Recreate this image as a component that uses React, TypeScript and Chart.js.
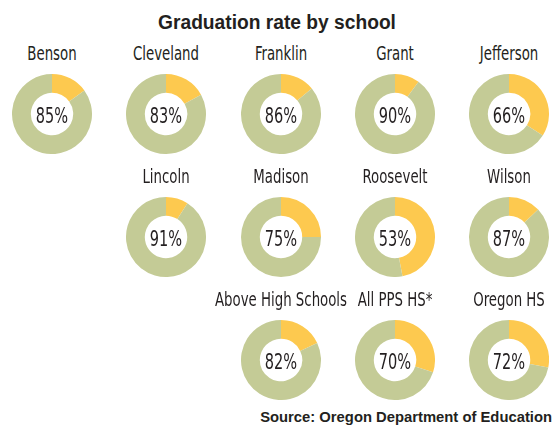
import React, { useEffect, useRef } from "react";
import { Chart, registerables } from "chart.js";

Chart.register(...registerables);

const TITLE = "Graduation rate by school";
const SOURCE = "Source: Oregon Department of Education";
const schools = [
  "Benson", "Cleveland", "Franklin", "Grant", "Jefferson",
  "Lincoln", "Madison", "Roosevelt", "Wilson",
  "Above High Schools", "All PPS HS*", "Oregon HS",
];
const rates = [85, 83, 86, 90, 66, 91, 75, 53, 87, 82, 70, 72];
const rowSizes = [5, 4, 3];

const GREEN = "#c4cb96";
const YELLOW = "#fdc94f";
const TEXT = "#231f20";

const COL_X = [52, 166, 281, 395, 509];
const ROW_Y = [114, 237, 360];
const SIZE = 80;
const COND = "'DejaVu Sans Condensed', 'Liberation Sans Narrow', sans-serif";

function Donut({ rate }: { rate: number }) {
  const ref = useRef<HTMLCanvasElement | null>(null);
  useEffect(() => {
    if (!ref.current) return;
    const chart = new Chart(ref.current, {
      type: "doughnut",
      data: {
        labels: ["Not graduated", "Graduated"],
        datasets: [
          {
            data: [100 - rate, rate],
            backgroundColor: [YELLOW, GREEN],
            borderWidth: 0,
          },
        ],
      },
      options: {
        responsive: false,
        animation: false,
        cutout: "53%",
        layout: { padding: 0 },
        plugins: { legend: { display: false }, tooltip: { enabled: false }, title: { display: false } },
      },
    });
    return () => chart.destroy();
  }, [rate]);
  return <canvas ref={ref} width={SIZE} height={SIZE} style={{ width: SIZE, height: SIZE, display: "block" }} />;
}

export default function App() {
  const cells: { name: string; rate: number; x: number; y: number }[] = [];
  let idx = 0;
  rowSizes.forEach((n, r) => {
    for (let i = 0; i < n; i++) {
      const col = 5 - n + i;
      cells.push({ name: schools[idx], rate: rates[idx], x: COL_X[col], y: ROW_Y[r] });
      idx++;
    }
  });
  return (
    <div style={{ position: "absolute", left: 0, top: 0, width: 560, height: 428, background: "#fff", overflow: "hidden", color: TEXT }}>
      <div
        style={{
          position: "absolute", left: 277, top: 22, transform: "translate(-50%,-50%) scaleX(0.96)",
          fontFamily: "'Liberation Sans', Arial, sans-serif", fontWeight: 700, fontSize: 20, lineHeight: 1, whiteSpace: "nowrap",
        }}
      >
        {TITLE}
      </div>
      {cells.map((c, i) => (
        <React.Fragment key={i}>
          <div
            style={{
              position: "absolute", left: c.x, top: c.y - 61, transform: "translate(-50%,-50%) scaleX(0.74)",
              fontFamily: COND, fontSize: 20, lineHeight: 1, whiteSpace: "nowrap",
            }}
          >
            {c.name}
          </div>
          <div style={{ position: "absolute", left: c.x - SIZE / 2, top: c.y - SIZE / 2 }}>
            <Donut rate={c.rate} />
          </div>
          <div
            style={{
              position: "absolute", left: c.x, top: c.y + 1.5, transform: "translate(-50%,-50%) scaleX(0.77)",
              fontFamily: COND, fontSize: 21, lineHeight: 1, whiteSpace: "nowrap",
            }}
          >
            {c.rate}%
          </div>
        </React.Fragment>
      ))}
      <div
        style={{
          position: "absolute", right: 8, top: 417, transform: "translateY(-50%)",
          fontFamily: "'Liberation Sans', Arial, sans-serif", fontWeight: 700, fontSize: 14.8, lineHeight: 1, whiteSpace: "nowrap",
        }}
      >
        {SOURCE}
      </div>
    </div>
  );
}
